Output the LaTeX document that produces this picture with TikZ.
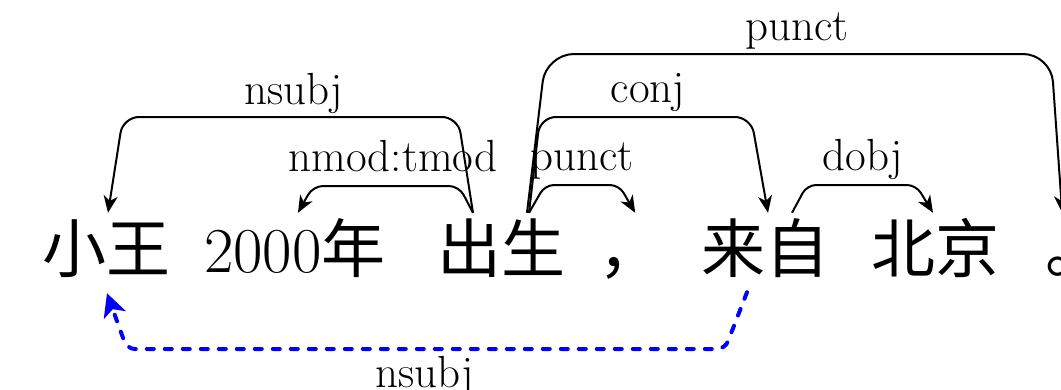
\documentclass[tikz,border=0pt]{standalone}
\usepackage{fontspec}
\newfontfamily\cjk{Noto Sans CJK SC}
\usetikzlibrary{arrows.meta,calc}
\begin{document}
\begin{tikzpicture}[x=1pt,y=-1pt,
  word/.style={inner sep=0pt, anchor=base, text height=59pt, text depth=8pt, font=\fontsize{64}{70}\selectfont},
  lbl/.style={inner sep=0pt, anchor=base, font=\fontsize{45}{50}\selectfont},
  dep/.style={line width=2pt, -{Stealth[length=17pt,width=14pt,inset=5pt]}, line join=round},
  bdep/.style={blue, line width=4pt, line cap=round, dash pattern=on 7pt off 11pt, -{Stealth[length=23pt,width=23pt,inset=6pt]}},
]
\useasboundingbox (0,0) rectangle (1061,389);
% words
\node[word] (w1) at (106,272) {\cjk 小王};
\node[word, anchor=base west] (w2) at (204,272) {2000{\cjk 年}};
\node[word] (w3) at (501,272) {\cjk 出生};
\node[word, anchor=base west] (w4) at (598,272) {\cjk ，};
\node[word] (w5) at (765,272) {\cjk 来自};
\node[word] (w6) at (935,272) {\cjk 北京};
\node[word, anchor=base west] (w7) at (1045,272) {\cjk 。};
% arcs
\draw[dep, rounded corners=16pt] ([xshift=-28pt]w3.north) -- (458,117) -- (123,117) -- ([xshift=2pt]w1.north);
\draw[dep, rounded corners=10pt] ([xshift=-28pt]w3.north) -- (459,186) -- (313,186) -- ([xshift=3pt]w2.north);
\draw[dep, rounded corners=9pt] ([xshift=28pt]w3.north) -- (545,185) -- (619,185) -- ([xshift=5pt]w4.north);
\draw[dep, rounded corners=16pt] ([xshift=28pt]w3.north) -- (540,117) -- (751,117) -- ([xshift=3pt]w5.north);
\draw[dep, rounded corners=28pt] ([xshift=26pt]w3.north) -- (546,54) -- (1051,54) -- ([xshift=-15pt]w7.north);
\draw[dep, rounded corners=9pt] ([xshift=27pt]w5.north) -- (807,185) -- (916,185) -- ([xshift=-2pt]w6.north);
\draw[bdep, rounded corners=8pt] ([xshift=-18pt,yshift=-12pt]w5.south) -- (725,349) -- (127,349) -- ([xshift=1pt,yshift=-13pt]w1.south);
% labels
\node[lbl] (l1) at (294,104) {nsubj};
\node[lbl] (l2) at (393,171) {nmod:tmod};
\node[lbl] (l3) at (582,170) {punct};
\node[lbl] (l4) at (648,102) {conj};
\node[lbl] (l5) at (797,40) {punct};
\node[lbl] (l6) at (863,170) {dobj};
\node[lbl] (l7) at (425,387) {nsubj};
\end{tikzpicture}
\end{document}
